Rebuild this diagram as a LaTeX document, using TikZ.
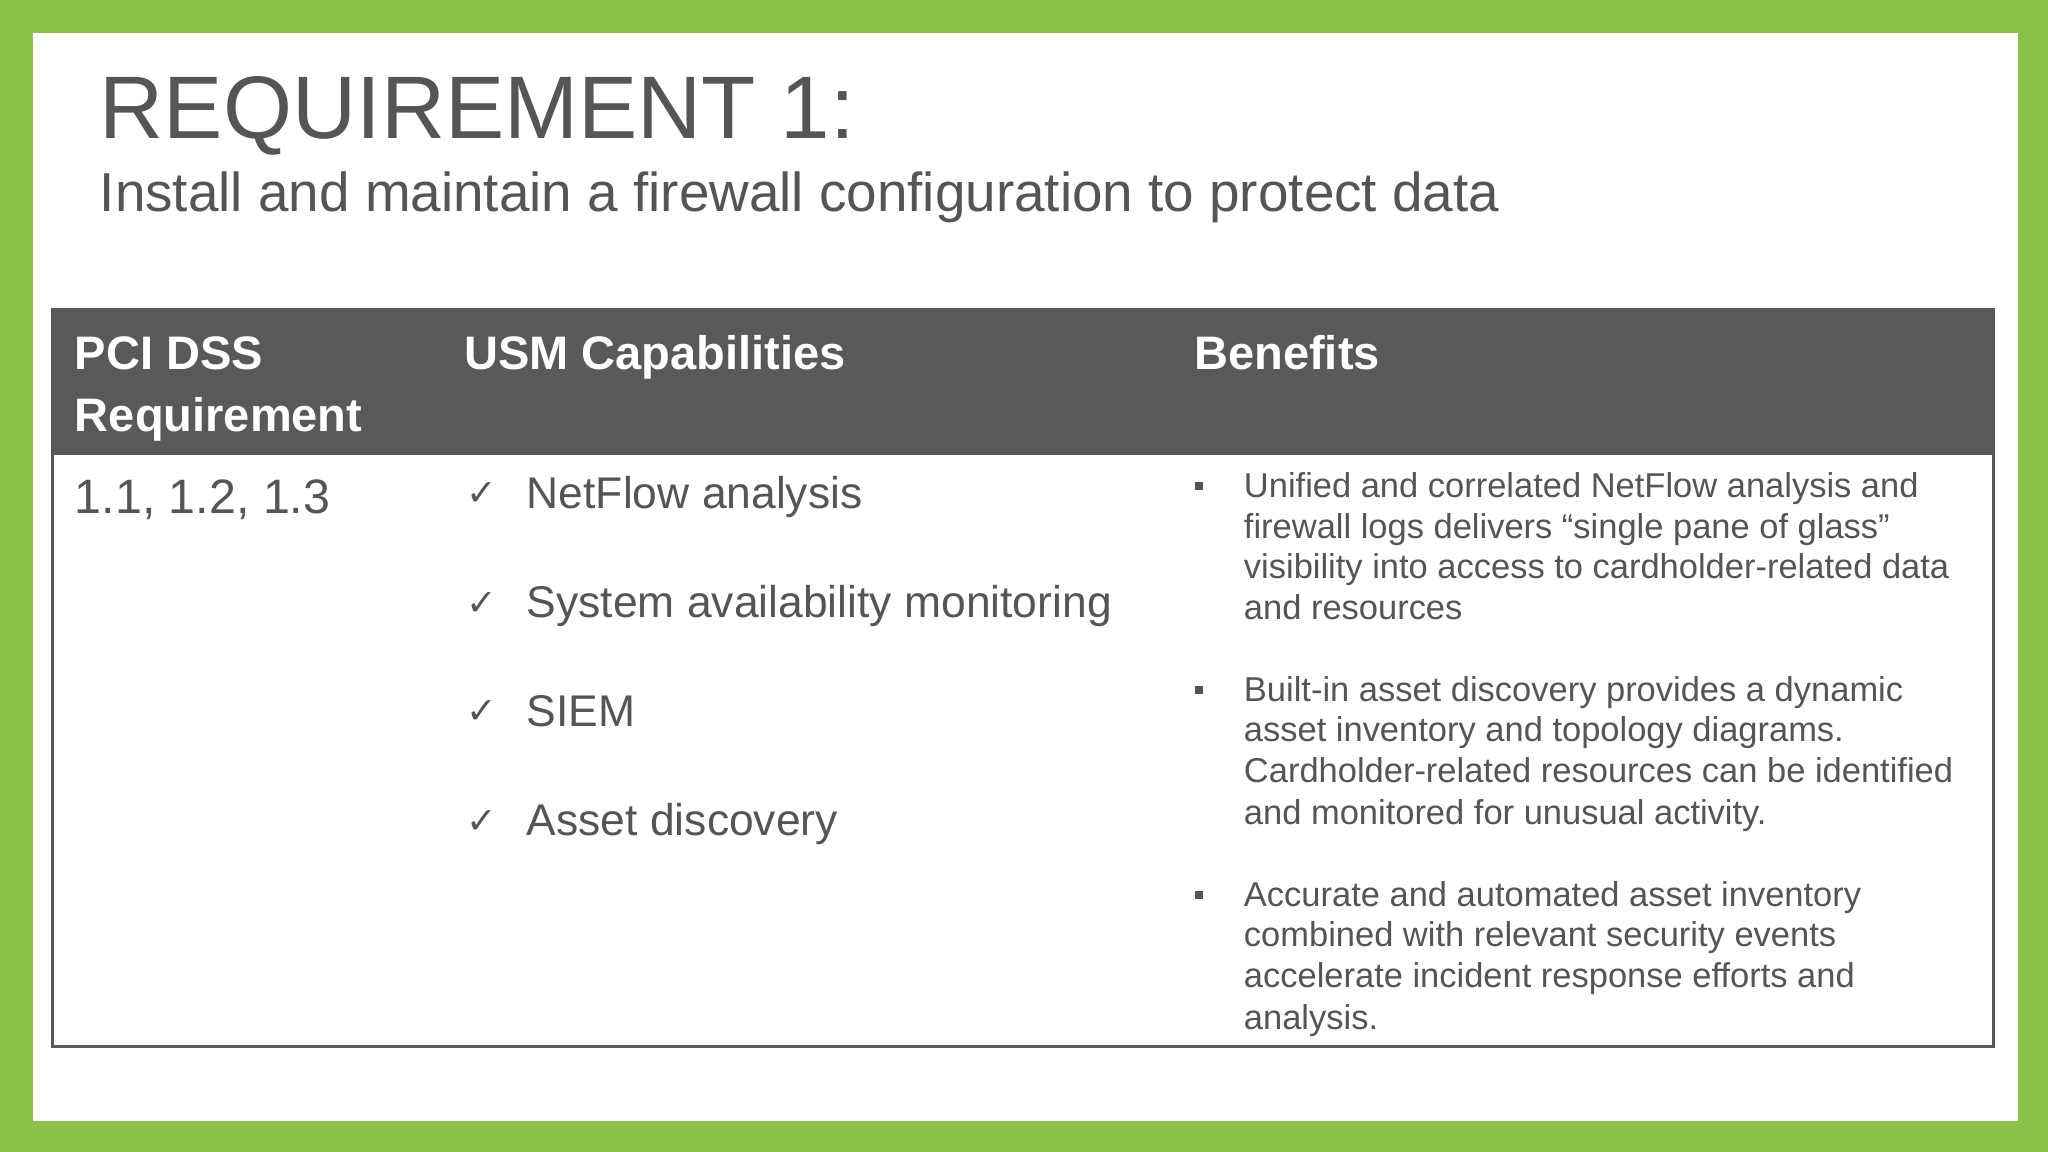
\documentclass[tikz,border=0pt]{standalone}
\usepackage{fontspec}
\setmainfont{Liberation Sans}
\newfontfamily\djv{DejaVu Sans}
\definecolor{grn}{HTML}{8BC34A}
\definecolor{txt}{HTML}{555555}
\definecolor{hdr}{HTML}{58595B}
\begin{document}
\begin{tikzpicture}[x=0.5pt,y=-0.5pt,
  t/.style={anchor=base west,inner sep=0pt,text=txt},
  h/.style={anchor=base west,inner sep=0pt,text=white,font=\fontsize{18}{20}\selectfont\bfseries},
  captxt/.style={t,font=\fontsize{17}{20}\selectfont},
  ben/.style={t,font=\fontsize{13.2}{16}\selectfont},
  chk/.style={t,font=\fontsize{14}{16}\djv},
  bul/.style={fill=txt,minimum size=3pt,inner sep=0pt}]
\fill[grn] (0,0) rectangle (1568,882);
\fill[white] (25,25) rectangle (1545,858);
\node[t,font=\fontsize{34}{40}\selectfont] (title) at (76,106) {REQUIREMENT 1:};
\node[t,font=\fontsize{21}{25}\selectfont] (sub) at (76,162) {Install and maintain a firewall configuration to protect data};
\fill[hdr] (40,237) rectangle (1526,348);
\draw[hdr,line width=1.2pt] (40,237) rectangle (1526,801);
\node[h] (h1) at (57,283) {PCI DSS};
\node[h] (h1b) at (57,330) {Requirement};
\node[h] (h2) at (355,283) {USM Capabilities};
\node[h] (h3) at (914,283) {Benefits};
\node[t,font=\fontsize{18.5}{22}\selectfont] (req) at (57,393) {1.1, 1.2, 1.3};
\foreach \y/\s [count=\i] in {389/NetFlow analysis,473/System availability monitoring,556/SIEM,640/Asset discovery}{
  \node[chk] (c\i) at (357,\y-2) {✓};
  \node[captxt] (u\i) at (403,\y) {\s};
}
\foreach \y in {372,528,685}{\node[bul] at (918,\y) {};}
\foreach \y/\s [count=\i] in {
381/{Unified and correlated NetFlow analysis and},
412/{firewall logs delivers “single pane of glass”},
443/{visibility into access to cardholder-related data},
474/{and resources},
537/{Built-in asset discovery provides a dynamic},
568/{asset inventory and topology diagrams.},
599/{Cardholder-related resources can be identified},
631/{and monitored for unusual activity.},
694/{Accurate and automated asset inventory},
725/{combined with relevant security events},
756/{accelerate incident response efforts and},
788/{analysis.}}{
  \node[ben] (b\i) at (952,\y) {\s};
}
\end{tikzpicture}
\end{document}
